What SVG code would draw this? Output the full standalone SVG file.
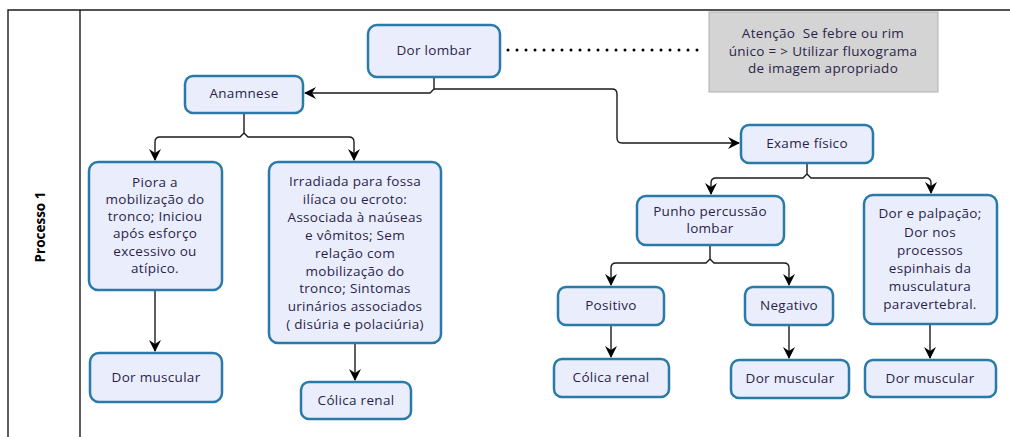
<svg xmlns="http://www.w3.org/2000/svg" width="1010" height="437" viewBox="0 0 1010 437">
<defs>
<style>
.n{fill:#eaeefc;stroke:#2a7aa8;stroke-width:2.5}
.t{font-family:"Open Sans","DejaVu Sans",sans-serif;font-size:13.5px;letter-spacing:0.3px;fill:#2b1f4a;text-anchor:middle}
.c{fill:none;stroke:#1a1a1a;stroke-width:1.4}
</style>
<marker id="ah" viewBox="0 0 12 12" refX="11" refY="6" markerWidth="12" markerHeight="12" markerUnits="userSpaceOnUse" orient="auto">
<path d="M0,0 L12,6 L0,12 L4,6 z" fill="#000"/>
</marker>
</defs>
<rect width="1010" height="437" fill="#fff"/>
<g id="frame" stroke="#1a1a1a" stroke-width="1.4" fill="none">
<path d="M8,437 V10 H1010"/>
<path d="M80,10 V437"/>
</g>
<text x="45" y="227" transform="rotate(-90 45 227)" style="font-family:'Open Sans','DejaVu Sans',sans-serif;font-size:13.5px;font-weight:bold;fill:#000;text-anchor:middle">Processo 1</text>

<g id="connectors">
<path class="c" d="M434,77 V89 L430,93 H305" marker-end="url(#ah)"/>
<path class="c" d="M434,89 H612 Q617,89 617,94 V138 Q617,143 622,143 H739" marker-end="url(#ah)"/>
<path fill="none" stroke="#000" stroke-dasharray="0,9" stroke-width="3" stroke-linecap="round" d="M508,50 H705"/>
<path class="c" d="M244,113 V133 L240,137 H160 Q155,137 155,142 V160" marker-end="url(#ah)"/>
<path class="c" d="M244,133 L248,137 H349 Q354,137 354,142 V160" marker-end="url(#ah)"/>
<path class="c" d="M155,290 V351" marker-end="url(#ah)"/>
<path class="c" d="M355,343 V380" marker-end="url(#ah)"/>
<path class="c" d="M807,163 V174 L803,178 H716 Q711,178 711,183 V194" marker-end="url(#ah)"/>
<path class="c" d="M807,174 L811,178 H926 Q931,178 931,183 V193" marker-end="url(#ah)"/>
<path class="c" d="M710,245 V259 L706,263 H616 Q611,263 611,268 V285" marker-end="url(#ah)"/>
<path class="c" d="M710,259 L714,263 H784 Q789,263 789,268 V285" marker-end="url(#ah)"/>
<path class="c" d="M611,325 V357" marker-end="url(#ah)"/>
<path class="c" d="M789,325 V358" marker-end="url(#ah)"/>
<path class="c" d="M930,324 V358" marker-end="url(#ah)"/>
</g>

<g id="dor-lombar"><rect class="n" x="368" y="25" width="132" height="52" rx="9"/><text class="t" x="434" y="55">Dor lombar</text></g>
<g id="atencao"><rect x="709" y="12" width="229" height="80" fill="#d4d4d4" stroke="#b0b0b0" stroke-width="1"/>
<text class="t" x="823" y="38" xml:space="preserve">Atenção  Se febre ou rim</text>
<text class="t" x="823" y="56">único = &gt; Utilizar fluxograma</text>
<text class="t" x="823" y="73">de imagem apropriado</text></g>
<g id="anamnese"><rect class="n" x="185" y="76" width="118" height="37" rx="8"/><text class="t" x="244" y="98">Anamnese</text></g>
<g id="exame"><rect class="n" x="741" y="125" width="132" height="38" rx="8"/><text class="t" x="807" y="148">Exame físico</text></g>
<g id="piora"><rect class="n" x="89" y="162" width="133" height="128" rx="9"/>
<text class="t" x="155" y="187">Piora a</text>
<text class="t" x="155" y="204">mobilização do</text>
<text class="t" x="155" y="221">tronco; Iniciou</text>
<text class="t" x="155" y="238">após esforço</text>
<text class="t" x="155" y="256">excessivo ou</text>
<text class="t" x="155" y="273">atípico.</text></g>
<g id="irradiada"><rect class="n" x="269" y="162" width="172" height="181" rx="9"/>
<text class="t" x="355" y="186">Irradiada para fossa</text>
<text class="t" x="355" y="204">ilíaca ou ecroto:</text>
<text class="t" x="355" y="222">Associada à naúseas</text>
<text class="t" x="355" y="240">e vômitos; Sem</text>
<text class="t" x="355" y="258">relação com</text>
<text class="t" x="355" y="276">mobilização do</text>
<text class="t" x="355" y="293">tronco; Sintomas</text>
<text class="t" x="355" y="311">urinários associados</text>
<text class="t" x="355" y="329">( disúria e polaciúria)</text></g>
<g id="dor-muscular-1"><rect class="n" x="90" y="353" width="132" height="49" rx="9"/><text class="t" x="156" y="382">Dor muscular</text></g>
<g id="colica-1"><rect class="n" x="301" y="382" width="110" height="37" rx="8"/><text class="t" x="356" y="405">Cólica renal</text></g>
<g id="punho"><rect class="n" x="637" y="196" width="147" height="49" rx="9"/>
<text class="t" x="710" y="216">Punho percussão</text>
<text class="t" x="710" y="233">lombar</text></g>
<g id="dor-palpacao"><rect class="n" x="864" y="195" width="133" height="129" rx="9"/>
<text class="t" x="930" y="218">Dor e palpação;</text>
<text class="t" x="930" y="237">Dor nos</text>
<text class="t" x="930" y="255">processos</text>
<text class="t" x="930" y="273">espinhais da</text>
<text class="t" x="930" y="291">musculatura</text>
<text class="t" x="930" y="309">paravertebral.</text></g>
<g id="positivo"><rect class="n" x="558" y="287" width="106" height="38" rx="8"/><text class="t" x="611" y="310">Positivo</text></g>
<g id="negativo"><rect class="n" x="745" y="287" width="88" height="38" rx="8"/><text class="t" x="789" y="310">Negativo</text></g>
<g id="colica-2"><rect class="n" x="554" y="359" width="115" height="38" rx="8"/><text class="t" x="611" y="382">Cólica renal</text></g>
<g id="dor-muscular-2"><rect class="n" x="731" y="360" width="118" height="38" rx="8"/><text class="t" x="790" y="383">Dor muscular</text></g>
<g id="dor-muscular-3"><rect class="n" x="865" y="360" width="131" height="37" rx="8"/><text class="t" x="930" y="383">Dor muscular</text></g>
</svg>
